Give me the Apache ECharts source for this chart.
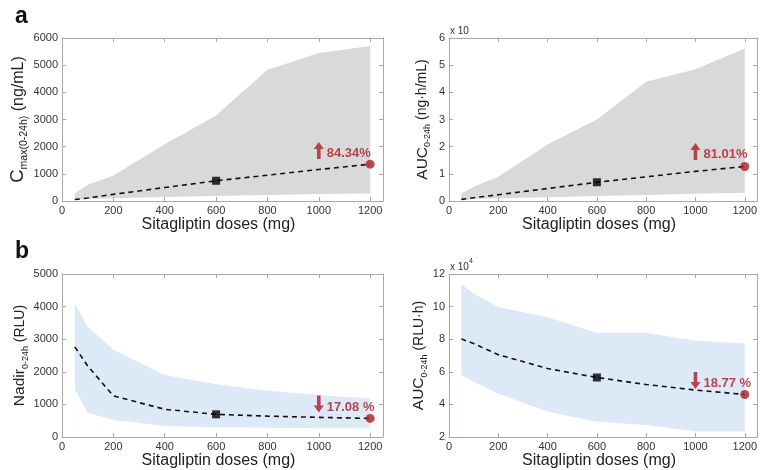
<!DOCTYPE html>
<html><head><meta charset="utf-8">
<script src="https://cdn.jsdelivr.net/npm/echarts@6/dist/echarts.min.js"></script>
<style>html,body{margin:0;padding:0;background:#fff}#c{width:760px;height:470px}</style>
</head><body><div id="c"></div>
<script>
// ---- data ----
const doses = [50, 100, 200, 400, 600, 800, 1000, 1200];
// a-left: Cmax(0-24h) ng/mL
const cmaxMean  = [55, 110, 245, 495, 745, 950, 1160, 1355];
const cmaxUpper = [280, 600, 940, 2090, 3150, 4830, 5450, 5710];
const cmaxLower = [40, 70, 100, 150, 180, 220, 255, 280];
// a-right: AUC0-24h ng·h/mL (x10^4)
const aucPkMean  = [0.06, 0.12, 0.23, 0.46, 0.69, 0.89, 1.09, 1.27];
const aucPkUpper = [0.28, 0.52, 0.89, 2.08, 3.0, 4.39, 4.85, 5.61];
const aucPkLower = [0.04, 0.07, 0.1, 0.14, 0.18, 0.22, 0.27, 0.3];
// b-left: Nadir0-24h RLU
const nadirMean  = [2765, 2180, 1260, 850, 695, 640, 602, 571];
const nadirUpper = [4090, 3380, 2680, 1900, 1620, 1420, 1290, 1180];
const nadirLower = [1460, 745, 520, 337, 296, 280, 270, 265];
// b-right: AUC0-24h RLU·h (x10^4)
const aucPdMean  = [8.02, 7.73, 7.05, 6.2, 5.65, 5.22, 4.88, 4.61];
const aucPdUpper = [11.37, 10.8, 9.98, 9.35, 8.39, 8.39, 7.9, 7.73];
const aucPdLower = [5.8, 5.39, 4.67, 3.55, 2.94, 2.73, 2.33, 2.33];
// annotations
const changeText = ['84.34%', '81.01%', '17.08 %', '18.77 %'];
const changeDir  = ['up', 'up', 'down', 'down'];
const arrowDose  = 1000;
const arrowY     = [1860, 1.82, 1012, 5.47];
const refDose = 600, newDose = 1200;

// ---- styling / layout ----
const RED = '#ac1c24';
const FRAME = '#a8a8a8';
const FONT = '"Liberation Sans", Arial, sans-serif';
const UP = 'path://M5,0 L10,7 L6.8,7 L6.8,17 L3.2,17 L3.2,7 L0,7 Z';
const DOWN = 'path://M3.2,0 L6.8,0 L6.8,10 L10,10 L5,17 L0,10 L3.2,10 Z';

const panels = [
  {left: 62, top: 38, mean: cmaxMean, upper: cmaxUpper, lower: cmaxLower, min: 0, max: 6000, interval: 1000, band: '#d9d9d9',
   name: '{c|C}{s|max(0-24h)}{u| (ng/mL)}', gap: 31, fs: [18.5, 10.5, 16]},
  {left: 449, top: 38, mean: aucPkMean, upper: aucPkUpper, lower: aucPkLower, min: 0, max: 6, interval: 1, band: '#d9d9d9',
   name: '{c|AUC}{s|0-24h}{u| (ng·h/mL)}', gap: 17, fs: [15.5, 9, 14]},
  {left: 62, top: 274, mean: nadirMean, upper: nadirUpper, lower: nadirLower, min: 0, max: 5000, interval: 1000, band: '#dde9f7',
   name: '{c|Nadir}{s|0-24h}{u| (RLU)}', gap: 27, fs: [15.5, 9, 14]},
  {left: 449, top: 274, mean: aucPdMean, upper: aucPdUpper, lower: aucPdLower, min: 2, max: 12, interval: 2, band: '#dde9f7',
   name: '{c|AUC}{s|0-24h}{u| (RLU·h)}', gap: 17, fs: [15.5, 9, 14]}
];

const grids = [], xAxes = [], yAxes = [], series = [];
panels.forEach((p, i) => {
  grids.push({left: p.left, top: p.top, width: 321, height: 163, show: false});
  const tick = {show: true, inside: true, length: 4, lineStyle: {color: FRAME}};
  const line = {show: true, onZero: false, lineStyle: {color: FRAME, width: 1}};
  xAxes.push({gridIndex: i, type: 'value', min: 0, max: 1250, interval: 200, position: 'bottom', z: 10,
    axisLine: line, axisTick: tick, splitLine: {show: false},
    axisLabel: {color: '#333', fontSize: 11, fontFamily: FONT, margin: 4, showMaxLabel: false,
      formatter: v => v > 1200 ? '' : String(v)},
    name: 'Sitagliptin doses (mg)', nameLocation: 'middle', nameGap: 9,
    nameTextStyle: {color: '#222', fontSize: 16, fontFamily: FONT, padding: [0, 8, 0, 0]}});
  xAxes.push({gridIndex: i, type: 'value', min: 0, max: 1250, interval: 200, position: 'top', z: 10,
    axisLine: line, axisTick: tick, axisLabel: {show: false}, splitLine: {show: false}});
  yAxes.push({gridIndex: i, type: 'value', min: p.min, max: p.max, interval: p.interval, position: 'left', z: 10,
    axisLine: line, axisTick: tick, splitLine: {show: false},
    axisLabel: {color: '#333', fontSize: 11, fontFamily: FONT, margin: 4, formatter: v => String(v)},
    name: p.name, nameLocation: 'middle', nameRotate: 90, nameGap: p.gap,
    nameTextStyle: {color: '#222', fontFamily: FONT,
      rich: {
        c: {fontSize: p.fs[0], lineHeight: p.fs[0] + 4, fontFamily: FONT, color: '#222'},
        s: {fontSize: p.fs[1], lineHeight: p.fs[1], verticalAlign: 'bottom', fontFamily: FONT, color: '#222'},
        u: {fontSize: p.fs[2], lineHeight: p.fs[0] + 4, fontFamily: FONT, color: '#222'}
      }}});
  yAxes.push({gridIndex: i, type: 'value', min: p.min, max: p.max, interval: p.interval, position: 'right', z: 10,
    axisLine: line, axisTick: tick, axisLabel: {show: false}, splitLine: {show: false}});

  const xi = i * 2, yi = i * 2;
  // band: upper area filled down to axis minimum, then lower area painted white over it
  series.push({type: 'line', xAxisIndex: xi, yAxisIndex: yi, symbol: 'none', silent: true,
    lineStyle: {width: 0, opacity: 0}, areaStyle: {color: p.band, opacity: 1, origin: 'start'},
    data: doses.map((d, k) => [d, p.upper[k]]), z: 1});
  series.push({type: 'line', xAxisIndex: xi, yAxisIndex: yi, symbol: 'none', silent: true,
    lineStyle: {width: 0, opacity: 0}, areaStyle: {color: '#ffffff', opacity: 1, origin: 'start'},
    data: doses.map((d, k) => [d, p.lower[k]]), z: 2});
  series.push({type: 'line', xAxisIndex: xi, yAxisIndex: yi, symbol: 'none', silent: true,
    lineStyle: {color: '#111', width: 1.6, type: [5, 4]}, data: doses.map((d, k) => [d, p.mean[k]]), z: 3});
  const ri = doses.indexOf(refDose), ni = doses.indexOf(newDose);
  series.push({type: 'scatter', xAxisIndex: xi, yAxisIndex: yi, symbol: 'rect', symbolSize: 8, silent: true,
    itemStyle: {color: '#000'}, data: [[refDose, p.mean[ri]]], z: 4});
  series.push({type: 'scatter', xAxisIndex: xi, yAxisIndex: yi, symbol: 'circle', symbolSize: 9, silent: true,
    itemStyle: {color: RED}, data: [[newDose, p.mean[ni]]], z: 4});
  series.push({type: 'scatter', xAxisIndex: xi, yAxisIndex: yi, silent: true,
    symbol: changeDir[i] === 'up' ? UP : DOWN, symbolSize: [10, 17], symbolKeepAspect: false,
    itemStyle: {color: RED}, data: [[arrowDose, arrowY[i]]], z: 4,
    label: {show: true, position: 'right', distance: 3, offset: [0, 3], formatter: changeText[i],
      color: RED, fontSize: 13, fontWeight: 'bold', fontFamily: FONT}});
});

const chart = echarts.init(document.getElementById('c'), null, {renderer: 'canvas'});
chart.setOption({
  animation: false,
  backgroundColor: '#fff',
  grid: grids, xAxis: xAxes, yAxis: yAxes, series,
  graphic: [
    {type: 'text', left: 15, top: 5, style: {text: 'a', font: 'bold 23px ' + FONT, fill: '#111'}},
    {type: 'text', left: 15, top: 240, style: {text: 'b', font: 'bold 23px ' + FONT, fill: '#111'}},
    {type: 'text', left: 450, top: 26, style: {text: 'x 10', font: '10px ' + FONT, fill: '#333'}},
    {type: 'text', left: 450, top: 262, style: {text: 'x 10', font: '10px ' + FONT, fill: '#333'}},
    {type: 'text', left: 469, top: 258, style: {text: '4', font: '7px ' + FONT, fill: '#333'}}
  ]
});
</script></body></html>
